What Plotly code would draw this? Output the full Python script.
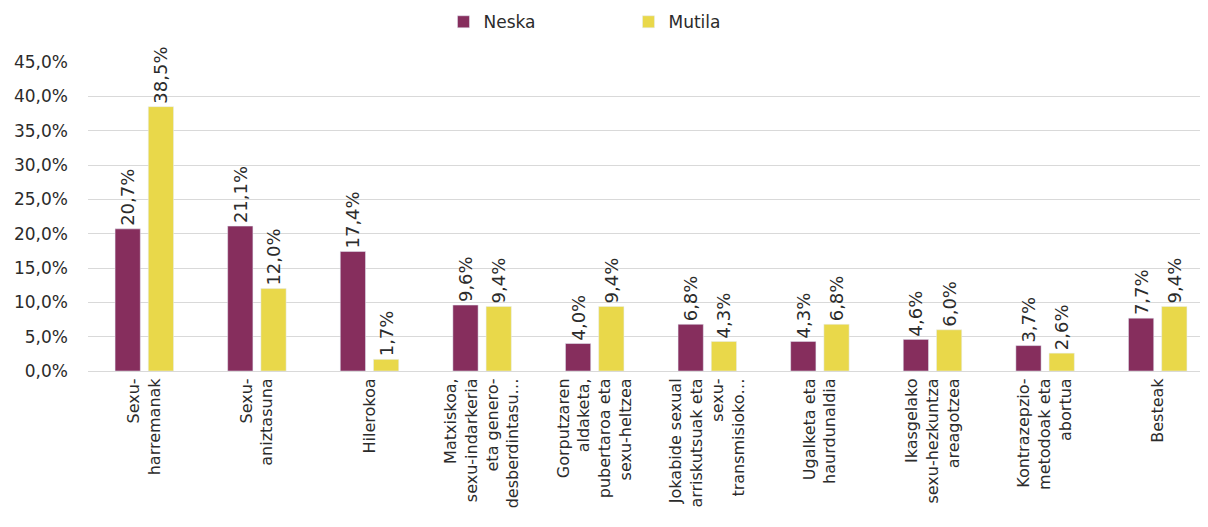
import plotly.graph_objects as go

categories = [
    "Sexu-<br>harremanak",
    "Sexu-<br>aniztasuna",
    "Hilerokoa",
    "Matxiskoa,<br>sexu-indarkeria<br>eta genero-<br>desberdintasu…",
    "Gorputzaren<br>aldaketa,<br>pubertaroa eta<br>sexu-heltzea",
    "Jokabide sexual<br>arriskutsuak eta<br>sexu-<br>transmisioko…",
    "Ugalketa eta<br>haurdunaldia",
    "Ikasgelako<br>sexu-hezkuntza<br>areagotzea",
    "Kontrazepzio-<br>metodoak eta<br>abortua",
    "Besteak",
]
neska = [0.207, 0.211, 0.174, 0.096, 0.040, 0.068, 0.043, 0.046, 0.037, 0.077]
mutila = [0.385, 0.120, 0.017, 0.094, 0.094, 0.043, 0.068, 0.060, 0.026, 0.094]
series_names = ["Neska", "Mutila"]
colors = ["#862E5D", "#E9D84A"]

FONT = "DejaVu Sans"

fig = go.Figure()
for name, vals, col in zip(series_names, [neska, mutila], colors):
    fig.add_trace(go.Bar(
        name=name, x=categories, y=vals, marker_color=col,
        texttemplate="%{y:.1%}", textposition="outside", textangle=-90,
        constraintext="none",
        textfont=dict(size=18, color="#2b2b2b", family=FONT),
        cliponaxis=False,
    ))

fig.update_layout(
    width=1208, height=527,
    margin=dict(l=80, r=2, t=54, b=164),
    plot_bgcolor="white", paper_bgcolor="white",
    separators=",.",
    barmode="group", bargap=0.41, bargroupgap=0.24,
    font=dict(family=FONT, color="#2b2b2b"),
    legend=dict(orientation="h", x=0.48, xanchor="center",
                yref="container", y=0.973, yanchor="middle",
                entrywidth=140, itemwidth=30,
                font=dict(size=17, color="#2b2b2b", family=FONT)),
    showlegend=True,
)
fig.update_yaxes(range=[0, 0.45], dtick=0.05, tickformat=".1%",
                 showgrid=True, gridcolor="#d9d9d9", gridwidth=1,
                 zeroline=False, ticklabelstandoff=19, automargin=False,
                 tickfont=dict(size=17, color="#2b2b2b", family=FONT))
fig.update_xaxes(tickangle=-90, showline=True, linecolor="#d9d9d9",
                 automargin=False,
                 tickfont=dict(size=16, color="#2b2b2b", family=FONT))

fig.write_html("out.html")
